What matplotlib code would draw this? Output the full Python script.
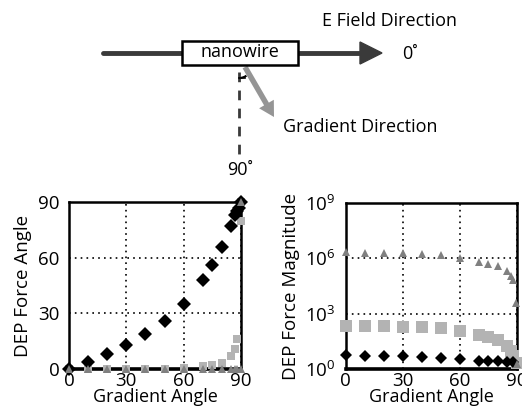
import numpy as np
import matplotlib
matplotlib.use("Agg")
import matplotlib.pyplot as plt
from matplotlib.patches import Rectangle, Arc, FancyArrow

plt.rcParams['font.family'] = ['Open Sans', 'DejaVu Sans']
plt.rcParams['mathtext.default'] = 'regular'

# left panel: DEP force angle vs gradient angle
angle_x = [0, 10, 20, 30, 40, 50, 60, 70, 75, 80, 85, 87, 88, 89, 90]
angle_diamond = [0, 4, 8, 13, 19, 26, 35, 48, 56, 66, 77, 83, 85, 87, 90]
angle_square_x = [0, 10, 20, 30, 40, 50, 60, 70, 75, 80, 85, 87, 88, 89.8, 90]
angle_square = [0, 0, 0, 0, 0, 0, 0.5, 1.5, 2, 3.4, 7, 11, 16, 80, 90]
angle_triangle_x = [0, 10, 20, 30, 40, 50, 60, 70, 75, 80, 85, 87, 88, 89.8, 90]
angle_triangle = [0, 0, 0, 0, 0, 0, 0, 0, 0, 0, 0, 0, 0, 0, 90]

# right panel: DEP force magnitude (log10) vs gradient angle
mag_x = [0, 10, 20, 30, 40, 50, 60, 70, 75, 80, 85, 87, 88, 89.5, 90]
mag_triangle_log = [6.32, 6.3, 6.3, 6.29, 6.24, 6.16, 6.02, 5.8, 5.71, 5.6, 5.29, 5.02, 4.84, 3.58, 0.29]
mag_square_x = [0, 10, 20, 30, 40, 50, 60, 70, 75, 80, 85, 87, 88, 90]
mag_square_log = [2.35, 2.33, 2.33, 2.3, 2.27, 2.2, 2.08, 1.86, 1.73, 1.55, 1.23, 0.95, 0.68, 0.33]
mag_diamond_x = [0, 10, 20, 30, 40, 50, 60, 70, 75, 80, 85, 88]
mag_diamond_log = [0.75, 0.72, 0.72, 0.7, 0.65, 0.6, 0.54, 0.45, 0.44, 0.42, 0.4, 0.38]

x_ticks = [0, 30, 60, 90]
angle_ticks = [0, 30, 60, 90]
mag_ticks = [0, 3, 6, 9]

W, H = 522, 419
fig = plt.figure(figsize=(W / 100, H / 100), dpi=100)

# --- schematic on top, drawn in pixel coordinates ---
sk = fig.add_axes([0, 0, 1, 1])
sk.set_xlim(0, W)
sk.set_ylim(H, 0)
sk.axis('off')
dark = '#3a3a3a'
sk.plot([103, 362], [53, 53], color=dark, lw=3.5, solid_capstyle='round')
sk.fill([360, 382, 360], [42, 53, 64], color=dark)
sk.add_patch(Rectangle((182, 41), 116, 24, fc='white', ec='black', lw=1.8, zorder=3))
sk.text(240, 52, 'nanowire', ha='center', va='center', fontsize=13, zorder=4)
sk.text(390, 21, 'E Field Direction', ha='center', va='center', fontsize=13)
sk.text(402, 54, '0˚', ha='left', va='center', fontsize=13)
sk.plot([239, 239], [72, 157], color=dark, lw=2, ls=(0, (3.5, 3)))
sk.add_patch(Arc((239, 65), 26, 26, theta1=55, theta2=90, color='black', lw=1.5))
sk.plot([239, 245], [78, 78], color='black', lw=1.2)
sk.add_patch(FancyArrow(245, 67, 29, 50, width=5.5, head_width=17, head_length=15,
                        length_includes_head=True, color='#959595', lw=0))
sk.text(283, 127, 'Gradient Direction', ha='left', va='center', fontsize=13)
sk.text(240, 170, '90˚', ha='center', va='center', fontsize=13)


def style_axes(ax):
    for s in ax.spines.values():
        s.set_linewidth(1.8)
    ax.spines['bottom'].set_linewidth(2.6)
    ax.tick_params(length=0, labelsize=13.5)
    ax.tick_params(axis='y', pad=7)
    ax.tick_params(axis='x', pad=2)
    ax.grid(True, color='black', ls=(0, (1, 2.5)), lw=1.2)


# --- left panel ---
ax1 = fig.add_axes([69 / W, 50 / H, 172 / W, 167 / H])
ax1.plot(angle_square_x, angle_square, 's', color='#b3b3b3', ms=6, mew=0, clip_on=False, zorder=3)
ax1.plot(angle_x, angle_diamond, 'D', color='black', ms=7, mew=0, clip_on=False, zorder=4)
ax1.plot(angle_triangle_x, angle_triangle, '^', color='#808080', ms=6, mew=0, clip_on=False, zorder=5)
ax1.set_xlim(0, 90)
ax1.set_ylim(0, 90)
ax1.set_xticks(x_ticks)
ax1.set_yticks(angle_ticks)
style_axes(ax1)
ax1.set_xlabel('Gradient Angle', fontsize=13, labelpad=-1)
ax1.set_ylabel('DEP Force Angle', fontsize=13.5, labelpad=4)

# --- right panel ---
ax2 = fig.add_axes([345.5 / W, 50 / H, 171 / W, 166 / H])
ax2.plot(mag_square_x, mag_square_log, 's', color='#b3b3b3', ms=8, mew=0, clip_on=False, zorder=3)
ax2.plot(mag_diamond_x, mag_diamond_log, 'D', color='black', ms=6.5, mew=0, clip_on=False, zorder=4)
ax2.plot(mag_x, mag_triangle_log, '^', color='#808080', ms=6, mew=0, clip_on=False, zorder=5)
ax2.set_xlim(0, 90)
ax2.set_ylim(0, 9)
ax2.set_xticks(x_ticks)
ax2.set_yticks(mag_ticks)
ax2.set_yticklabels(['$10^{%d}$' % t for t in mag_ticks])
style_axes(ax2)
ax2.set_xlabel('Gradient Angle', fontsize=13, labelpad=-1)
ax2.set_ylabel('DEP Force Magnitude', fontsize=13.5, labelpad=4)

fig.savefig('out.png', dpi=100)
